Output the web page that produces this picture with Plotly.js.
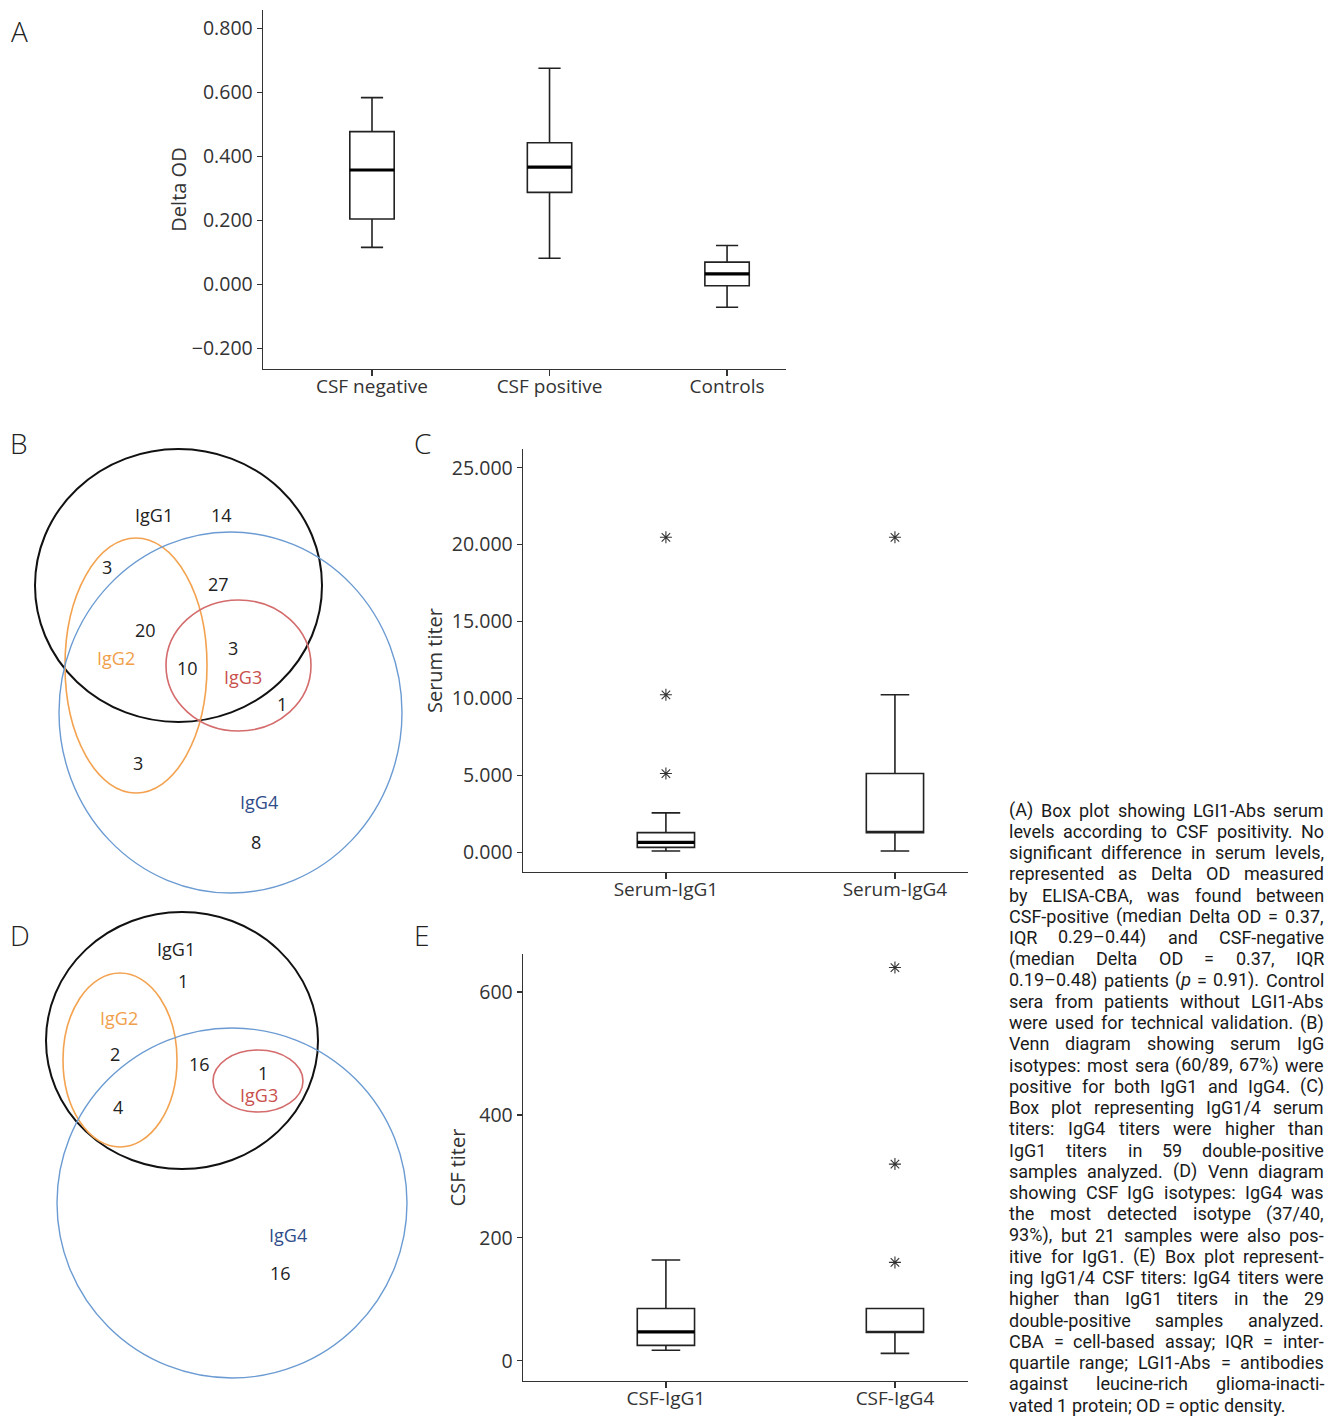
<!DOCTYPE html>
<html>
<head>
<meta charset="utf-8">
<script src="https://cdn.plot.ly/plotly-3.0.1.min.js"></script>
<style>
  html, body { margin: 0; padding: 0; background: #ffffff; }
  #chart { width: 1336px; height: 1417px; }
</style>
</head>
<body>
<div id="chart"></div>
<script>
// ---------------- DATA ----------------
// Panel A: Delta OD by CSF status
const groupsA = ['CSF negative', 'CSF positive', 'Controls'];
const lowA  = [0.115, 0.081, -0.072];
const q1A   = [0.204, 0.287, -0.005];
const medA  = [0.357, 0.366, 0.032];
const q3A   = [0.477, 0.442, 0.069];
const highA = [0.583, 0.675, 0.121];
const tickValsA = [-0.2, 0, 0.2, 0.4, 0.6, 0.8];
const tickTextA = ['\u22120.200', '0.000', '0.200', '0.400', '0.600', '0.800'];

// Panel C: serum titers
const groupsC = ['Serum-IgG1', 'Serum-IgG4'];
const lowC  = [80, 80];
const q1C   = [320, 1280];
const medC  = [640, 1280];
const q3C   = [1280, 5120];
const highC = [2560, 10240];
const outlierGroupC = ['Serum-IgG1', 'Serum-IgG1', 'Serum-IgG1', 'Serum-IgG4'];
const outlierValC   = [20480, 10240, 5120, 20480];
const tickValsC = [0, 5000, 10000, 15000, 20000, 25000];
const tickTextC = ['0.000', '5.000', '10.000', '15.000', '20.000', '25.000'];

// Panel E: CSF titers
const groupsE = ['CSF-IgG1', 'CSF-IgG4'];
const lowE  = [17, 12];
const q1E   = [25, 46];
const medE  = [47, 46];
const q3E   = [85, 85];
const highE = [164, 85];
const outlierGroupE = ['CSF-IgG4', 'CSF-IgG4', 'CSF-IgG4'];
const outlierValE   = [640, 320, 160];
const tickValsE = [0, 200, 400, 600];

// Panel B: serum IgG isotype Venn counts
const vennBSets   = ['IgG1', 'IgG2', 'IgG3', 'IgG4'];
const vennBCounts = [14, 3, 27, 20, 10, 3, 1, 3, 8];
// Panel D: CSF IgG isotype Venn counts
const vennDSets   = ['IgG1', 'IgG2', 'IgG3', 'IgG4'];
const vennDCounts = [1, 2, 16, 1, 4, 16];

// Caption
const captionLines = [
  '(A) Box plot showing LGI1-Abs serum',
  'levels according to CSF positivity. No',
  'significant difference in serum levels,',
  'represented as Delta OD measured',
  'by ELISA-CBA, was found between',
  'CSF-positive (median Delta OD = 0.37,',
  'IQR 0.29\u20130.44) and CSF-negative',
  '(median Delta OD = 0.37, IQR',
  '0.19\u20130.48) patients (<i>p</i> = 0.91). Control',
  'sera from patients without LGI1-Abs',
  'were used for technical validation. (B)',
  'Venn diagram showing serum IgG',
  'isotypes: most sera (60/89, 67%) were',
  'positive for both IgG1 and IgG4. (C)',
  'Box plot representing IgG1/4 serum',
  'titers: IgG4 titers were higher than',
  'IgG1 titers in 59 double-positive',
  'samples analyzed. (D) Venn diagram',
  'showing CSF IgG isotypes: IgG4 was',
  'the most detected isotype (37/40,',
  '93%), but 21 samples were also pos-',
  'itive for IgG1. (E) Box plot represent-',
  'ing IgG1/4 CSF titers: IgG4 titers were',
  'higher than IgG1 titers in the 29',
  'double-positive samples analyzed.',
  'CBA = cell-based assay; IQR = inter-',
  'quartile range; LGI1-Abs = antibodies',
  'against leucine-rich glioma-inacti-',
  'vated 1 protein; OD = optic density.'
];

// ---------------- LAYOUT GEOMETRY (pixels) ----------------
const W = 1336, H = 1417;
const px = x => x / W;
const py = y => 1 - y / H;
const FONT = 'Open Sans, Noto Sans, sans-serif';
const CAPFONT = 'Roboto, Liberation Sans, sans-serif';
const INK = '#222222';
const AX = '#333333';
const boxW = 0.25;

const colIgG1 = '#111111', colIgG2 = '#F3A24F', colIgG3 = '#D46B6C', colIgG4 = '#6B9BD2';
const txtIgG2 = '#F0A04B', txtIgG3 = '#C9504E', txtIgG4 = '#2F4D8A';

// Venn shapes geometry (pixel boxes) and label positions
const vennBShapes = [
  { x0: 35,  x1: 322, y0: 449, y1: 722, c: colIgG1, w: 2 },
  { x0: 65,  x1: 207, y0: 538, y1: 793, c: colIgG2, w: 1.6 },
  { x0: 166, x1: 311, y0: 600, y1: 731, c: colIgG3, w: 1.6 },
  { x0: 59,  x1: 402, y0: 532, y1: 893, c: colIgG4, w: 1.4 }
];
const vennBSetPos = [[154, 515, INK], [116, 658, txtIgG2], [243, 677, txtIgG3], [259, 802, txtIgG4]];
const vennBCountPos = [[221, 515], [107, 567], [218, 584], [145, 630], [187, 668], [233, 648], [282, 704], [138, 763], [256, 842]];

const vennDShapes = [
  { x0: 46,  x1: 318, y0: 912,  y1: 1169, c: colIgG1, w: 2 },
  { x0: 63,  x1: 177, y0: 973,  y1: 1147, c: colIgG2, w: 1.6 },
  { x0: 213, x1: 303, y0: 1050, y1: 1112, c: colIgG3, w: 1.6 },
  { x0: 57,  x1: 407, y0: 1028, y1: 1378, c: colIgG4, w: 1.4 }
];
const vennDSetPos = [[176, 949, INK], [119, 1018, txtIgG2], [259, 1095, txtIgG3], [288, 1235, txtIgG4]];
const vennDCountPos = [[183, 981], [115, 1054], [200, 1064], [263, 1073], [118, 1107], [280, 1273]];

// ---------------- TRACES ----------------
function boxTrace(xGroups, lo, q1, med, q3, hi, xa, ya) {
  return {
    type: 'box', x: xGroups, q1: q1, median: med, q3: q3,
    lowerfence: lo, upperfence: hi, boxpoints: false,
    width: boxW, whiskerwidth: 0.5,
    line: { color: INK, width: 1.6 }, fillcolor: '#ffffff',
    xaxis: xa, yaxis: ya, showlegend: false, hoverinfo: 'skip'
  };
}
function outlierTrace(xs, ys, xa, ya) {
  return {
    type: 'scatter', mode: 'markers', x: xs, y: ys,
    marker: { symbol: 'asterisk-open', size: 10, color: AX, line: { color: AX, width: 1.1 } },
    xaxis: xa, yaxis: ya, showlegend: false, hoverinfo: 'skip'
  };
}

const traces = [
  boxTrace(groupsA, lowA, q1A, medA, q3A, highA, 'x', 'y'),
  boxTrace(groupsC, lowC, q1C, medC, q3C, highC, 'x2', 'y2'),
  outlierTrace(outlierGroupC, outlierValC, 'x2', 'y2'),
  boxTrace(groupsE, lowE, q1E, medE, q3E, highE, 'x3', 'y3'),
  outlierTrace(outlierGroupE, outlierValE, 'x3', 'y3')
];

// ---------------- SHAPES ----------------
const shapes = [];
function medianShapes(meds, q1s, xref, yref) {
  meds.forEach((m, i) => {
    if (m === q1s[i]) return;
    shapes.push({ type: 'line', xref: xref, yref: yref, x0: i - boxW / 2, x1: i + boxW / 2,
      y0: m, y1: m, line: { color: '#000', width: 3.2 } });
  });
}
medianShapes(medA, q1A, 'x', 'y');
medianShapes(medC, q1C, 'x2', 'y2');
medianShapes(medE, q1E, 'x3', 'y3');

[vennBShapes, vennDShapes].forEach(list => list.forEach(s => {
  shapes.push({ type: 'circle', xref: 'paper', yref: 'paper',
    x0: px(s.x0), x1: px(s.x1), y0: py(s.y1), y1: py(s.y0),
    line: { color: s.c, width: s.w }, fillcolor: 'rgba(0,0,0,0)' });
}));

// ---------------- ANNOTATIONS ----------------
const annotations = [];
function ann(text, x, y, size, color, extra) {
  annotations.push(Object.assign({ xref: 'paper', yref: 'paper', x: px(x), y: py(y), text: text,
    showarrow: false, xanchor: 'center', yanchor: 'middle', borderpad: 0, borderwidth: 0,
    font: { family: FONT, size: size, color: color } }, extra || {}));
}
// panel letters
[['A', 19, 31], ['B', 19, 443], ['C', 422, 443], ['D', 20, 935], ['E', 421, 935]].forEach(p =>
  ann(p[0], p[1], p[2], 28, INK, { font: { family: FONT, size: 28, color: INK, weight: 300 } }));

// venn labels
vennBSets.forEach((s, i) => ann(s, vennBSetPos[i][0], vennBSetPos[i][1], 18, vennBSetPos[i][2]));
vennBCounts.forEach((c, i) => ann(String(c), vennBCountPos[i][0], vennBCountPos[i][1], 18, INK));
vennDSets.forEach((s, i) => ann(s, vennDSetPos[i][0], vennDSetPos[i][1], 18, vennDSetPos[i][2]));
vennDCounts.forEach((c, i) => ann(String(c), vennDCountPos[i][0], vennDCountPos[i][1], 18, INK));

// caption, justified word by word
(function () {
  const capLeft = 1009, capRight = 1324, capTop = 810, capStep = 21.25, capSize = 18;
  const ctx = document.createElement('canvas').getContext('2d');
  ctx.font = capSize + 'px Roboto, "Liberation Sans", sans-serif';
  const strip = s => s.replace(/<[^>]+>/g, '');
  captionLines.forEach((line, li) => {
    const words = line.split(' ');
    const widths = words.map(w => ctx.measureText(strip(w)).width);
    const total = widths.reduce((a, b) => a + b, 0);
    const last = li === captionLines.length - 1;
    const gap = (last || words.length < 2) ? ctx.measureText(' ').width
      : (capRight - capLeft - total) / (words.length - 1);
    let cx = capLeft;
    const cy = capTop + li * capStep;
    words.forEach((w, wi) => {
      ann(w, cx, cy, capSize, '#1a1a1a', { xanchor: 'left',
        font: { family: CAPFONT, size: capSize, color: '#1a1a1a' } });
      cx += widths[wi] + gap;
    });
  });
})();

// ---------------- AXES ----------------
function xAxis(domain, range, anchor) {
  return { domain: domain, range: range, anchor: anchor, type: 'category',
    showline: true, linecolor: AX, linewidth: 1.4, ticks: 'outside', ticklen: 6,
    tickcolor: AX, tickwidth: 1.2, showgrid: false, zeroline: false, fixedrange: true,
    ticklabelstandoff: -6,
    tickfont: { family: FONT, size: 19, color: AX } };
}
function yAxis(domain, range, anchor, tv, tt, title, standoff) {
  return { domain: domain, range: range, anchor: anchor,
    showline: true, linecolor: AX, linewidth: 1.4, ticks: 'outside', ticklen: 5,
    tickcolor: AX, tickwidth: 1.2, showgrid: false, zeroline: false, fixedrange: true,
    tickvals: tv, ticktext: tt,
    tickfont: { family: FONT, size: 19.5, color: AX },
    title: { text: title, standoff: standoff, font: { family: FONT, size: 20, color: AX } } };
}

const layout = {
  width: W, height: H,
  margin: { l: 0, r: 0, t: 0, b: 0, pad: 0 },
  paper_bgcolor: '#ffffff', plot_bgcolor: 'rgba(0,0,0,0)',
  font: { family: FONT, color: AX },
  showlegend: false,
  xaxis:  xAxis([px(263), px(786)], [-0.614, 2.332], 'y'),
  yaxis:  yAxis([py(369), py(10)], [-0.265, 0.857], 'x', tickValsA, tickTextA, 'Delta OD', 0),
  xaxis2: xAxis([px(523), px(968)], [-0.624, 1.319], 'y2'),
  yaxis2: yAxis([py(872), py(449)], [-1281, 26220], 'x2', tickValsC, tickTextC, 'Serum titer', 4),
  xaxis3: xAxis([px(523), px(968)], [-0.624, 1.319], 'y3'),
  yaxis3: yAxis([py(1381), py(954)], [-33, 662], 'x3', tickValsE, tickValsE.map(String), 'CSF titer', 8),
  shapes: shapes,
  annotations: annotations
};

Plotly.newPlot('chart', traces, layout, { displayModeBar: false, staticPlot: true });
</script>
</body>
</html>
